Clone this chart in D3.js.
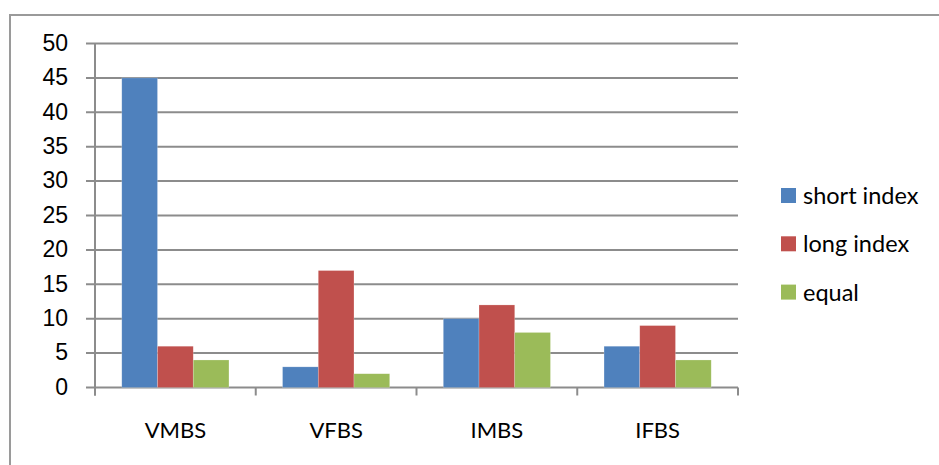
<!DOCTYPE html>
<html><head><meta charset="utf-8">
<script src="https://cdn.jsdelivr.net/npm/d3@7"></script>
<style>html,body{margin:0;padding:0;background:#fff;}svg{display:block;}</style>
</head><body>
<script>
const categories = ["VMBS", "VFBS", "IMBS", "IFBS"];
const seriesNames = ["short index", "long index", "equal"];
const shortIndex = [45, 3, 10, 6];
const longIndex = [6, 17, 12, 9];
const equal = [4, 2, 8, 4];
const yTicks = [0, 5, 10, 15, 20, 25, 30, 35, 40, 45, 50];
const colors = ["#4F81BD", "#C0504D", "#9BBB59"];

(function () {
const seriesValues = [shortIndex, longIndex, equal];
const W = 939, H = 465;
const svg = d3.select("body").append("svg").attr("width", W).attr("height", H);

// outer frame
svg.append("rect").attr("x", 10).attr("y", 15).attr("width", 960).attr("height", 480)
  .attr("fill", "none").attr("stroke", "#9a9a9a").attr("stroke-width", 2);

const pLeft = 95, pRight = 738, pTop = 43.5, pBottom = 387.5;
const x = d3.scaleBand().domain(categories).range([pLeft, pRight]).paddingInner(0).paddingOuter(0);
const y = d3.scaleLinear().domain([0, 50]).range([pBottom, pTop]);
const inner = d3.scaleBand().domain(d3.range(3)).range([0, x.bandwidth()]).paddingInner(0).paddingOuter(0.75);

// gridlines
svg.append("g").selectAll("line").data(yTicks).join("line")
  .attr("x1", pLeft - 9).attr("x2", pRight)
  .attr("y1", d => y(d)).attr("y2", d => y(d))
  .attr("stroke", "#8c8c8c").attr("stroke-width", 2);

// bars
categories.forEach((c, ci) => {
  seriesValues.forEach((vals, si) => {
    svg.append("rect")
      .attr("x", x(c) + inner(si))
      .attr("y", y(vals[ci]))
      .attr("width", inner.bandwidth())
      .attr("height", y(0) - y(vals[ci]))
      .attr("fill", colors[si])
      .attr("stroke", "rgba(255,255,255,0.35)").attr("stroke-width", 0.6);
  });
});

// y axis line
svg.append("line").attr("x1", pLeft).attr("x2", pLeft).attr("y1", pTop).attr("y2", pBottom + 8)
  .attr("stroke", "#8c8c8c").attr("stroke-width", 2);
// x axis ticks
const xTickPos = categories.map(c => x(c)).concat([pRight]);
svg.append("g").selectAll("line").data(xTickPos).join("line")
  .attr("x1", d => d).attr("x2", d => d).attr("y1", pBottom).attr("y2", pBottom + 8)
  .attr("stroke", "#8c8c8c").attr("stroke-width", 2);

// y tick labels
svg.append("g").selectAll("text").data(yTicks).join("text")
  .attr("x", 68).attr("y", d => y(d)).attr("dy", "0.32em")
  .attr("text-anchor", "end")
  .attr("font-family", "Liberation Sans, Arial, sans-serif").attr("font-size", 23)
  .attr("fill", "#000").text(d => d);

// category labels
svg.append("g").selectAll("text").data(categories).join("text")
  .attr("x", d => x(d) + x.bandwidth() / 2).attr("y", 438)
  .attr("text-anchor", "middle")
  .attr("font-family", "Lato, Open Sans, sans-serif").attr("font-size", 22)
  .attr("fill", "#000").text(d => d);

// legend
const lg = svg.append("g");
seriesNames.forEach((n, i) => {
  const ty = 204 + i * 48.3;
  lg.append("rect").attr("x", 781).attr("y", ty - 16).attr("width", 15).attr("height", 15).attr("fill", colors[i]);
  lg.append("text").attr("x", 803).attr("y", ty)
    .attr("font-family", "Lato, Open Sans, sans-serif").attr("font-size", 23.5)
    .attr("fill", "#000").text(n);
});
})();
</script>
</body></html>
